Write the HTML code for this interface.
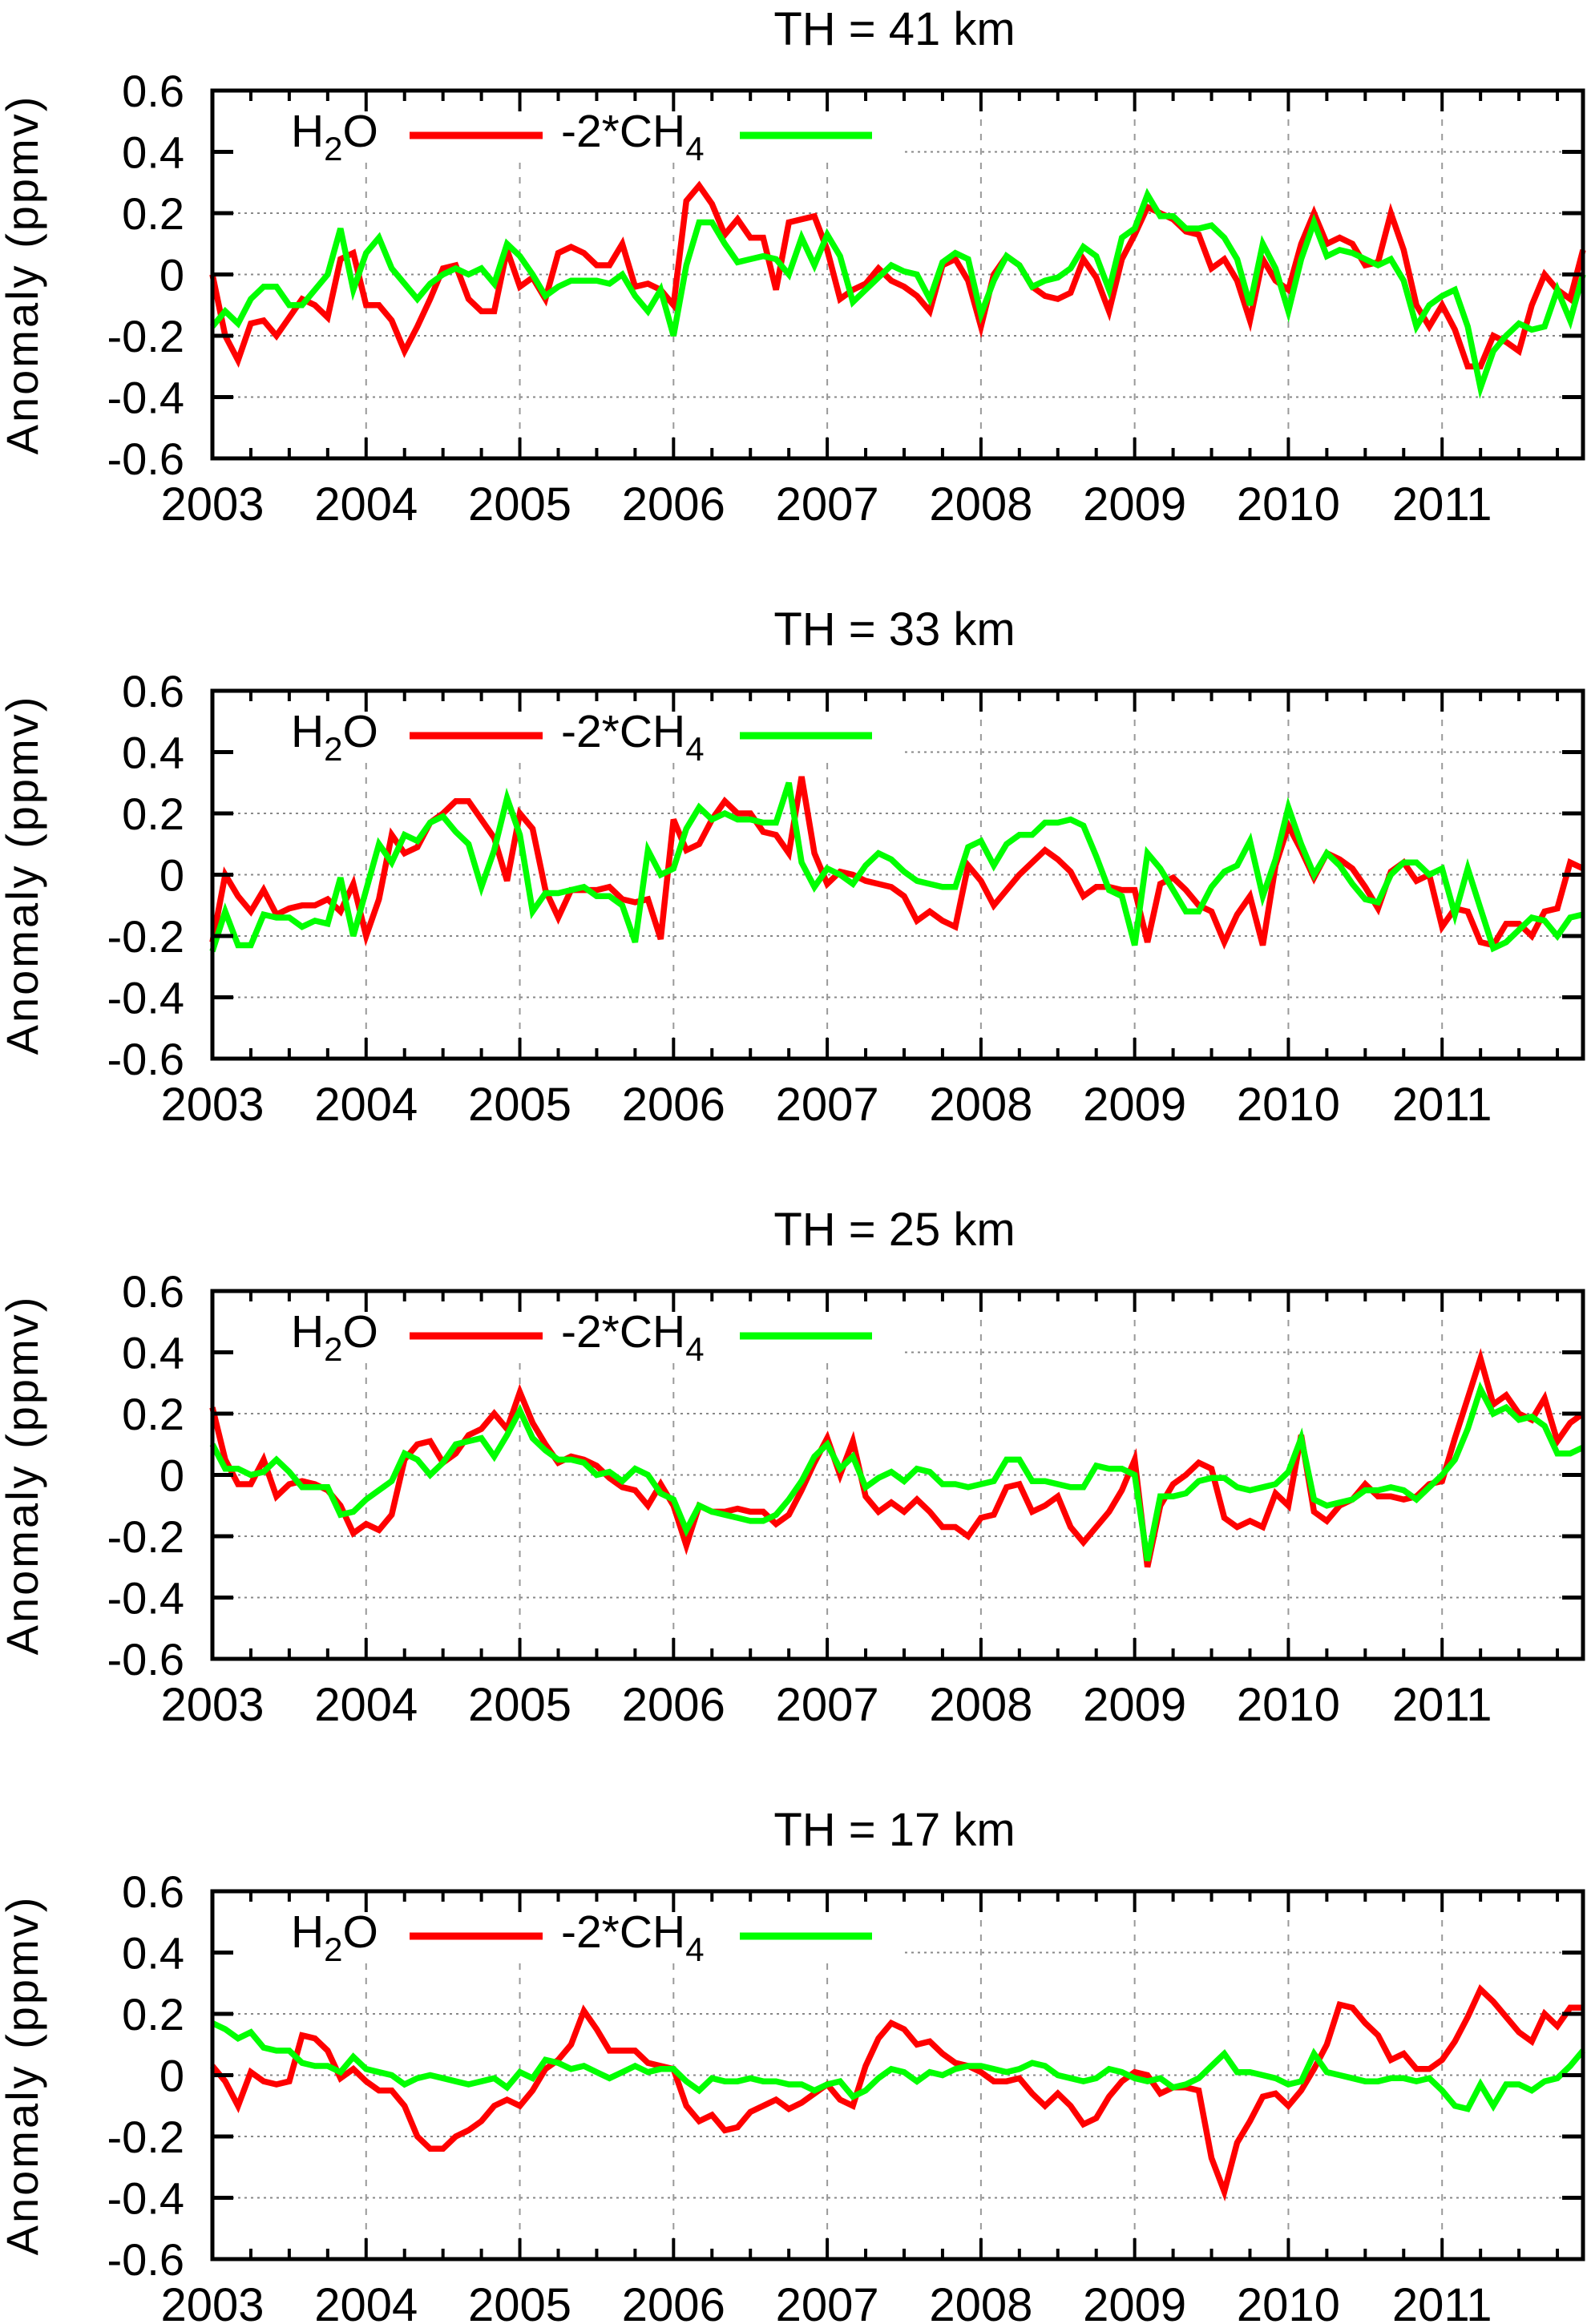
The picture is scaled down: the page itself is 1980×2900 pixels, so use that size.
<!DOCTYPE html>
<html><head><meta charset="utf-8"><style>
html,body{margin:0;padding:0;background:#fff;}
svg{display:block;font-family:"Liberation Sans",Arial,sans-serif;}
</style></head><body>
<svg id="fig" width="1980" height="2900" viewBox="0 0 1980 2900" xmlns="http://www.w3.org/2000/svg"></svg>
<script>
const titles = ["TH = 41 km","TH = 33 km","TH = 25 km","TH = 17 km"];
const yearTicks = [2003,2004,2005,2006,2007,2008,2009,2010,2011];
const yTicks = [0.6,0.4,0.2,0,-0.2,-0.4,-0.6];
const yTickLabels = ["0.6","0.4","0.2","0","-0.2","-0.4","-0.6"];

const h2o41 = [0,-0.2,-0.28,-0.16,-0.15,-0.2,-0.14,-0.08,-0.1,-0.14,0.05,0.07,
-0.1,-0.1,-0.15,-0.25,-0.17,-0.08,0.02,0.03,-0.08,-0.12,-0.12,0.08,
-0.04,-0.01,-0.08,0.07,0.09,0.07,0.03,0.03,0.1,-0.04,-0.03,-0.05,
-0.1,0.24,0.29,0.23,0.13,0.18,0.12,0.12,-0.05,0.17,0.18,0.19,
0.08,-0.08,-0.05,-0.03,0.02,-0.02,-0.04,-0.07,-0.12,0.03,0.05,-0.02,
-0.17,0,0.06,0.03,-0.04,-0.07,-0.08,-0.06,0.05,-0.01,-0.12,0.05,
0.13,0.22,0.2,0.18,0.14,0.13,0.02,0.05,-0.02,-0.15,0.05,-0.02,
-0.05,0.1,0.2,0.1,0.12,0.1,0.03,0.04,0.2,0.08,-0.1,-0.17,
-0.1,-0.18,-0.3,-0.3,-0.2,-0.22,-0.25,-0.1,0,-0.05,-0.08,0.08];
const ch4_41 = [-0.17,-0.12,-0.16,-0.08,-0.04,-0.04,-0.1,-0.1,-0.05,0,0.15,-0.05,
0.07,0.12,0.02,-0.03,-0.08,-0.03,0,0.02,0,0.02,-0.03,0.1,
0.06,0,-0.07,-0.04,-0.02,-0.02,-0.02,-0.03,0,-0.07,-0.12,-0.05,
-0.2,0.03,0.17,0.17,0.1,0.04,0.05,0.06,0.05,0,0.12,0.03,
0.13,0.06,-0.09,-0.05,-0.01,0.03,0.01,0,-0.08,0.04,0.07,0.05,
-0.13,-0.02,0.06,0.03,-0.04,-0.02,-0.01,0.02,0.09,0.06,-0.05,0.12,
0.15,0.26,0.19,0.19,0.15,0.15,0.16,0.12,0.05,-0.1,0.1,0.02,
-0.12,0.05,0.17,0.06,0.08,0.07,0.05,0.03,0.05,-0.02,-0.17,-0.1,
-0.07,-0.05,-0.17,-0.37,-0.25,-0.2,-0.16,-0.18,-0.17,-0.05,-0.15,0];

const h2o33 = [-0.22,0,-0.07,-0.12,-0.05,-0.13,-0.11,-0.1,-0.1,-0.08,-0.12,-0.03,
-0.2,-0.08,0.13,0.07,0.09,0.17,0.2,0.24,0.24,0.18,0.12,-0.02,
0.2,0.15,-0.05,-0.14,-0.05,-0.05,-0.05,-0.04,-0.08,-0.09,-0.08,-0.21,
0.18,0.08,0.1,0.18,0.24,0.2,0.2,0.14,0.13,0.07,0.32,0.07,
-0.03,0.01,0,-0.02,-0.03,-0.04,-0.07,-0.15,-0.12,-0.15,-0.17,0.03,
-0.02,-0.1,-0.05,0,0.04,0.08,0.05,0.01,-0.07,-0.04,-0.04,-0.05,
-0.05,-0.22,-0.03,-0.01,-0.05,-0.1,-0.12,-0.22,-0.13,-0.07,-0.23,0.03,
0.16,0.08,-0.01,0.07,0.05,0.02,-0.04,-0.11,0.01,0.04,-0.02,0,
-0.17,-0.11,-0.12,-0.22,-0.23,-0.16,-0.16,-0.2,-0.12,-0.11,0.04,0.02];
const ch4_33 = [-0.25,-0.12,-0.23,-0.23,-0.13,-0.14,-0.14,-0.17,-0.15,-0.16,-0.01,-0.2,
-0.05,0.1,0.04,0.13,0.11,0.17,0.19,0.14,0.1,-0.04,0.08,0.25,
0.13,-0.12,-0.06,-0.06,-0.05,-0.04,-0.07,-0.07,-0.1,-0.22,0.08,0,
0.02,0.15,0.22,0.18,0.2,0.18,0.18,0.17,0.17,0.3,0.04,-0.04,
0.02,0,-0.03,0.03,0.07,0.05,0.01,-0.02,-0.03,-0.04,-0.04,0.09,
0.11,0.03,0.1,0.13,0.13,0.17,0.17,0.18,0.16,0.06,-0.05,-0.07,
-0.23,0.07,0.02,-0.05,-0.12,-0.12,-0.04,0.01,0.03,0.11,-0.07,0.05,
0.22,0.1,0,0.07,0.03,-0.03,-0.08,-0.09,0,0.04,0.04,0,
0.02,-0.13,0.02,-0.11,-0.24,-0.22,-0.18,-0.14,-0.15,-0.2,-0.14,-0.13];

const h2o25 = [0.22,0.05,-0.03,-0.03,0.05,-0.07,-0.03,-0.02,-0.03,-0.05,-0.1,-0.19,
-0.16,-0.18,-0.13,0.05,0.1,0.11,0.04,0.07,0.13,0.15,0.2,0.15,
0.27,0.17,0.1,0.04,0.06,0.05,0.03,-0.01,-0.04,-0.05,-0.1,-0.03,
-0.1,-0.23,-0.1,-0.12,-0.12,-0.11,-0.12,-0.12,-0.16,-0.13,-0.05,0.04,
0.12,0,0.11,-0.07,-0.12,-0.09,-0.12,-0.08,-0.12,-0.17,-0.17,-0.2,
-0.14,-0.13,-0.04,-0.03,-0.12,-0.1,-0.07,-0.17,-0.22,-0.17,-0.12,-0.05,
0.05,-0.3,-0.1,-0.03,0,0.04,0.02,-0.14,-0.17,-0.15,-0.17,-0.06,
-0.1,0.13,-0.12,-0.15,-0.1,-0.08,-0.03,-0.07,-0.07,-0.08,-0.07,-0.03,
-0.02,0.12,0.25,0.38,0.23,0.26,0.2,0.18,0.25,0.11,0.17,0.2];
const ch4_25 = [0.1,0.02,0.02,0,0.01,0.05,0.01,-0.04,-0.04,-0.04,-0.13,-0.12,
-0.08,-0.05,-0.02,0.07,0.05,0,0.04,0.1,0.11,0.12,0.06,0.13,
0.21,0.12,0.08,0.05,0.05,0.04,0,0.01,-0.02,0.02,0,-0.06,
-0.08,-0.18,-0.1,-0.12,-0.13,-0.14,-0.15,-0.15,-0.13,-0.08,-0.02,0.06,
0.1,0.02,0.06,-0.04,-0.01,0.01,-0.02,0.02,0.01,-0.03,-0.03,-0.04,
-0.03,-0.02,0.05,0.05,-0.02,-0.02,-0.03,-0.04,-0.04,0.03,0.02,0.02,
0,-0.28,-0.07,-0.07,-0.06,-0.02,-0.01,-0.01,-0.04,-0.05,-0.04,-0.03,
0.01,0.12,-0.08,-0.1,-0.09,-0.08,-0.05,-0.05,-0.04,-0.05,-0.08,-0.04,
0,0.05,0.15,0.28,0.2,0.22,0.18,0.19,0.16,0.07,0.07,0.09];

const h2o17 = [0.03,-0.02,-0.1,0.01,-0.02,-0.03,-0.02,0.13,0.12,0.08,-0.01,0.02,
-0.02,-0.05,-0.05,-0.1,-0.2,-0.24,-0.24,-0.2,-0.18,-0.15,-0.1,-0.08,
-0.1,-0.05,0.02,0.05,0.1,0.21,0.15,0.08,0.08,0.08,0.04,0.03,
0.02,-0.1,-0.15,-0.13,-0.18,-0.17,-0.12,-0.1,-0.08,-0.11,-0.09,-0.06,
-0.03,-0.08,-0.1,0.03,0.12,0.17,0.15,0.1,0.11,0.07,0.04,0.03,
0.01,-0.02,-0.02,-0.01,-0.06,-0.1,-0.06,-0.1,-0.16,-0.14,-0.07,-0.02,
0.01,0,-0.06,-0.04,-0.04,-0.05,-0.27,-0.38,-0.22,-0.15,-0.07,-0.06,
-0.1,-0.05,0.02,0.1,0.23,0.22,0.17,0.13,0.05,0.07,0.02,0.02,
0.05,0.11,0.19,0.28,0.24,0.19,0.14,0.11,0.2,0.16,0.22,0.22];
const ch4_17 = [0.17,0.15,0.12,0.14,0.09,0.08,0.08,0.04,0.03,0.03,0.01,0.06,
0.02,0.01,0,-0.03,-0.01,0,-0.01,-0.02,-0.03,-0.02,-0.01,-0.04,
0.01,-0.01,0.05,0.04,0.02,0.03,0.01,-0.01,0.01,0.03,0.01,0.02,
0.02,-0.02,-0.05,-0.01,-0.02,-0.02,-0.01,-0.02,-0.02,-0.03,-0.03,-0.05,
-0.03,-0.02,-0.07,-0.05,-0.01,0.02,0.01,-0.02,0.01,0,0.02,0.03,
0.03,0.02,0.01,0.02,0.04,0.03,0,-0.01,-0.02,-0.01,0.02,0.01,
-0.01,-0.02,-0.01,-0.04,-0.03,-0.01,0.03,0.07,0.01,0.01,0,-0.01,
-0.03,-0.02,0.07,0.01,0,-0.01,-0.02,-0.02,-0.01,-0.01,-0.02,-0.01,
-0.05,-0.1,-0.11,-0.03,-0.1,-0.03,-0.03,-0.05,-0.02,-0.01,0.03,0.08];

const h2oSeries = [h2o41,h2o33,h2o25,h2o17];
const ch4Series = [ch4_41,ch4_33,ch4_25,ch4_17];

const NS="http://www.w3.org/2000/svg";
const svg=document.getElementById('fig');
const L=265, R=1975, X0=2003, X1=2011+11/12, PH=459;
const panelTops=[113,862,1611,2360];
function xs(t){return L+(t-X0)/(X1-X0)*(R-L);}
function mk(tag,attrs,parent){const e=document.createElementNS(NS,tag);for(const k in attrs)e.setAttribute(k,attrs[k]);(parent||svg).appendChild(e);return e;}

panelTops.forEach((T,p)=>{
  const B=T+PH;
  const ys=v=>T+(0.6-v)/1.2*PH;
  const g=mk('g',{});
  
  
  const title=mk('text',{x:1116,y:T-57,'font-size':58,'text-anchor':'middle'},g);
  title.textContent=titles[p];
  
  
  const yt=mk('text',{x:0,y:0,'font-size':56,'letter-spacing':3,'text-anchor':'middle',transform:`translate(47,${(T+B)/2}) rotate(-90)`},g);
  yt.textContent='Anomaly (ppmv)';
  
  
  yTicks.forEach(v=>{
    if(v===0.6||v===-0.6)return;
    const gl=mk('line',{x1:L,x2:R,y1:ys(v),y2:ys(v),stroke:'#888','stroke-width':2,'stroke-dasharray':'3,5'},g);
    
    
  });
  yearTicks.forEach(yr=>{
    if(yr===X0)return;
    const gl=mk('line',{x1:xs(yr),x2:xs(yr),y1:T,y2:B,stroke:'#999','stroke-width':2,'stroke-dasharray':'8,10'},g);
    
    
  });
  mk('rect',{x:L,y:T,width:1125-L,height:90,fill:'#fff'},g);
  [[h2oSeries[p],'#ff0000','h2o-line'],[ch4Series[p],'#00ff00','ch4-line']].forEach(([arr,col,nm])=>{
    const pts=arr.map((v,i)=>xs(X0+i/12).toFixed(1)+','+ys(v).toFixed(1)).join(' ');
    const pl=mk('polyline',{points:pts,fill:'none',stroke:col,'stroke-width':7.5,'stroke-linejoin':'miter','stroke-miterlimit':4},g);
    
    
  });
  const fr=mk('rect',{x:L,y:T,width:R-L,height:PH,fill:'none',stroke:'#000','stroke-width':5},g);
  
  
  for(let q=0;q<=35;q++){
    const t=X0+q/4; if(t>X1+1e-6)break;
    const len=(q%4===0)?26:13, x=xs(t);
    mk('line',{x1:x,x2:x,y1:T,y2:T+len,stroke:'#000','stroke-width':4},g);
    mk('line',{x1:x,x2:x,y1:B,y2:B-len,stroke:'#000','stroke-width':4},g);
  }
  yearTicks.forEach(yr=>{
    const tl=mk('text',{x:xs(yr),y:B+77,'font-size':58,'text-anchor':'middle'},g);
    tl.textContent=String(yr);
    
    
  });
  yTicks.forEach((v,i)=>{
    mk('line',{x1:L,x2:L+26,y1:ys(v),y2:ys(v),stroke:'#000','stroke-width':5},g);
    mk('line',{x1:R,x2:R-26,y1:ys(v),y2:ys(v),stroke:'#000','stroke-width':5},g);
    const tl=mk('text',{x:230,y:ys(v)+20,'font-size':56,'text-anchor':'end'},g);
    tl.textContent=yTickLabels[i];
    
    
  });
  const lg=mk('g',{},g);
  
  
  const t1=mk('text',{x:363,y:T+70,'font-size':57},lg);
  t1.innerHTML='H<tspan font-size="42" dy="17">2</tspan><tspan dy="-17">O</tspan>';
  
  
  const l1=mk('line',{x1:511,x2:677,y1:T+56,y2:T+56,stroke:'#ff0000','stroke-width':9},lg);
  
  
  const t2=mk('text',{x:700,y:T+70,'font-size':57},lg);
  t2.innerHTML='-2*CH<tspan font-size="42" dy="17">4</tspan>';
  
  
  const l2=mk('line',{x1:923,x2:1088,y1:T+56,y2:T+56,stroke:'#00ff00','stroke-width':9},lg);
  
  
});
</script>
</body></html>
